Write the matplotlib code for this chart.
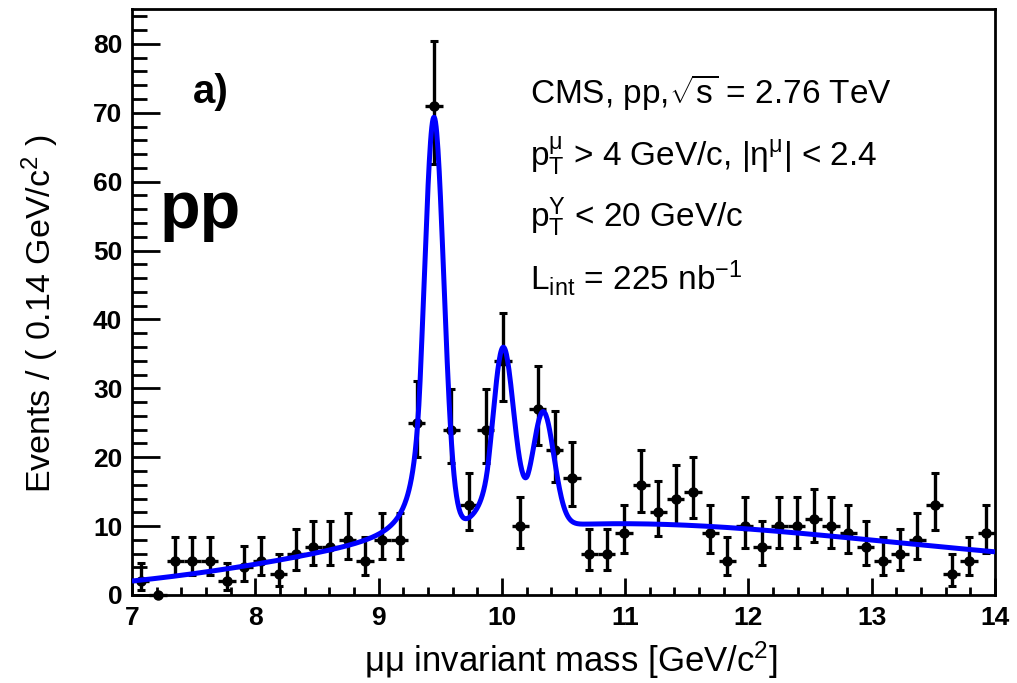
import math
import numpy as np
import matplotlib
matplotlib.use("Agg")
import matplotlib.pyplot as plt
from matplotlib.ticker import MultipleLocator

plt.rcParams["font.family"] = ["Liberation Sans", "DejaVu Sans"]
plt.rcParams["mathtext.fontset"] = "custom"
plt.rcParams["mathtext.rm"] = "Liberation Sans"
plt.rcParams["mathtext.it"] = "Liberation Sans:italic"
plt.rcParams["mathtext.bf"] = "Liberation Sans:bold"

# --- data: dimuon mass histogram, 50 bins of 0.14 GeV/c^2 from 7 to 14
BIN_LO, BIN_HI, N_BINS = 7.0, 14.0, 50
COUNTS = [2, 0, 5, 5, 5, 2, 4, 5, 3, 6,
          7, 7, 8, 5, 8, 8, 25, 71, 24, 13,
          24, 34, 10, 27, 21, 17, 6, 6, 9, 16,
          12, 14, 15, 9, 5, 10, 7, 10, 10, 11,
          10, 9, 7, 5, 6, 8, 13, 3, 5, 9]

# --- fit model: erf*exp background + three Crystal Ball peaks (1S, 2S, 3S)
BKG_NORM, BKG_TAU, BKG_MU, BKG_SIG = 300.0, 3.63, 10.0, 2.5
PEAK_MASS  = [9.449, 10.010, 10.335]
PEAK_WIDTH = [0.080, 0.085, 0.0875]
PEAK_AMP   = [60.4, 25.5, 16.6]
CB_ALPHA, CB_N = 1.4, 2.0

X_TICKS = [7, 8, 9, 10, 11, 12, 13, 14]
Y_TICKS = [0, 10, 20, 30, 40, 50, 60, 70, 80]

W, H = 1017, 683


def pois_cdf(k, mu):
    term, tot = math.exp(-mu), math.exp(-mu)
    for i in range(1, k + 1):
        term *= mu / i
        tot += term
    return tot


def garwood(n, a=0.15865):
    # central 68% Poisson interval, returned as (down, up) errors
    if n == 0:
        return 0.0, 0.0
    def solve(f, lo, hi):
        for _ in range(80):
            mid = 0.5 * (lo + hi)
            if f(mid) > 0:
                hi = mid
            else:
                lo = mid
        return 0.5 * (lo + hi)
    lower = solve(lambda m: (1 - pois_cdf(n - 1, m)) - a, 0.0, n)
    upper = solve(lambda m: a - pois_cdf(n, m), n, n + 10 * math.sqrt(n) + 10)
    return n - lower, upper - n


def crystal_ball(x, m, s, a, n):
    t = (x - m) / s
    A = (n / a) ** n * np.exp(-a * a / 2)
    B = n / a - a
    out = np.exp(-0.5 * t * t)
    tail = t < -a
    out[tail] = A * (B - t[tail]) ** (-n)
    return out


def model(x):
    erf = np.vectorize(math.erf)
    y = BKG_NORM * np.exp(-x / BKG_TAU) * 0.5 * (1 + erf((x - BKG_MU) / BKG_SIG))
    for m, s, amp in zip(PEAK_MASS, PEAK_WIDTH, PEAK_AMP):
        y = y + amp * crystal_ball(x, m, s, CB_ALPHA, CB_N)
    return y


edges = np.linspace(BIN_LO, BIN_HI, N_BINS + 1)
centers = 0.5 * (edges[1:] + edges[:-1])
half = 0.5 * (edges[1] - edges[0])
counts = np.asarray(COUNTS, dtype=float)
errs = np.array([garwood(n) for n in COUNTS]).T

fig = plt.figure(figsize=(W / 100, H / 100), dpi=100)
ax = fig.add_axes([132 / W, 1 - 595 / H, (995 - 132) / W, (595 - 9.4) / H])

ax.errorbar(centers, counts, xerr=half, fmt="none", ecolor="black",
            elinewidth=2.4, capsize=0, clip_on=False, zorder=3)
ax.errorbar(centers, counts, yerr=errs, fmt="o", color="black", ms=6.5,
            elinewidth=2.4, capsize=3, capthick=2.2, clip_on=False, zorder=3)

xs = np.linspace(BIN_LO, BIN_HI, 1400)
ax.plot(xs, model(xs), color="#0000ff", lw=3.6, zorder=4,
        solid_capstyle="butt")

ax.set_xlim(BIN_LO, BIN_HI)
ax.set_ylim(0, 85)
ax.set_xticks(X_TICKS)
ax.set_yticks(Y_TICKS)
ax.xaxis.set_minor_locator(MultipleLocator(0.2))
ax.yaxis.set_minor_locator(MultipleLocator(2))
ax.tick_params(axis="both", which="both", direction="in", width=2,
               top=False, right=False)
ax.tick_params(axis="y", which="major", length=20, pad=7)
ax.tick_params(axis="y", which="minor", length=11)
ax.tick_params(axis="x", which="major", length=12, pad=8)
ax.tick_params(axis="x", which="minor", length=6)
for lab in ax.get_xticklabels() + ax.get_yticklabels():
    lab.set_fontsize(19)
    lab.set_fontweight("bold")
for sp in ax.spines.values():
    sp.set_linewidth(2)

fig.text(40 / W, 1 - 314 / H, r"Events / ( 0.14 GeV/c$^{2}$ )",
         rotation=90, ha="center", va="center", fontsize=24.5)
fig.text(571 / W, 1 - 660 / H, r"μμ invariant mass [GeV/c$^{2}$]",
         ha="center", va="center", fontsize=25)

fig.text(193 / W, 1 - 103 / H, "a)", fontsize=29, fontweight="bold",
         ha="left", va="baseline")
fig.text(160 / W, 1 - 228 / H, "pp", fontsize=48, fontweight="bold",
         ha="left", va="baseline")

info = [
    (103, r"CMS, pp,$\sqrt{\mathrm{s}}$ = 2.76 TeV"),
    (166, r"p$_{\mathrm{T}}^{\mathrm{μ}}$ > 4 GeV/c, |η$^{\mathrm{μ}}$| < 2.4"),
    (227, r"p$_{\mathrm{T}}^{\mathrm{Υ}}$ < 20 GeV/c"),
    (290, r"L$_{\mathrm{int}}$ = 225 nb$^{\mathrm{-1}}$"),
]
for ypx, txt in info:
    fig.text(530 / W, 1 - ypx / H, txt, fontsize=24, ha="left", va="baseline")

fig.savefig("out.png", dpi=100)
